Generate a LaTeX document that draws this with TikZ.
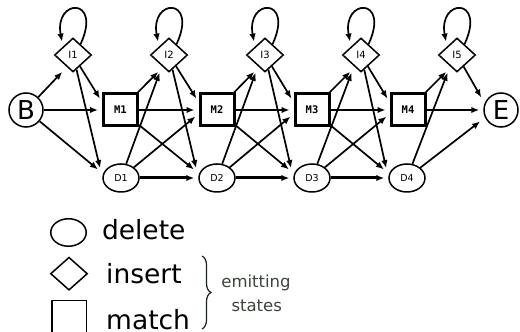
\documentclass[tikz,border=0pt]{standalone}
\usepackage{fontspec}
\setmainfont{DejaVu Sans}
\newfontfamily\monob{DejaVu Sans Mono}
\usetikzlibrary{shapes.geometric,arrows.meta,decorations.pathreplacing}
\definecolor{bracecol}{HTML}{1A241A}
\definecolor{notecol}{HTML}{3C443C}
\begin{document}
\begin{tikzpicture}[x=1pt,y=1pt,
  ins/.style={diamond,draw,line width=1.5pt,minimum width=37pt,minimum height=34pt,inner sep=0pt,font=\fontsize{10}{10}\selectfont},
  mat/.style={rectangle,draw,line width=3pt,minimum width=34pt,minimum height=32pt,inner sep=0pt,font=\monob\bfseries\fontsize{10.5}{10}\selectfont},
  del/.style={ellipse,draw,line width=1.5pt,minimum width=36pt,minimum height=28pt,inner sep=0pt,font=\fontsize{9.5}{10}\selectfont},
  term/.style={circle,draw,line width=1.5pt,minimum size=34pt,inner sep=0pt,font=\fontsize{26}{26}\selectfont},
  arr/.style={line width=1.7pt,-{Latex[length=8pt,width=6.5pt]},shorten >=4pt},
  tarr/.style={arr,line width=3pt},
  legtext/.style={anchor=base west,inner sep=0pt,font=\fontsize{26.5}{28}\selectfont},
  note/.style={anchor=base,inner sep=0pt,text=notecol,font=\fontsize{16.5}{18}\selectfont}
]
\useasboundingbox (0,0) rectangle (520,332);

% terminal states
\node[term] (B) at (26,222) {B};
\node[term] (E) at (501,222) {E};
% insert states
\node[ins] (I1) at (73,277) {I1};
\node[ins] (I2) at (169,277) {I2};
\node[ins] (I3) at (265,277) {I3};
\node[ins] (I4) at (361,277) {I4};
\node[ins] (I5) at (457,277) {I5};
% match states
\node[mat] (M1) at (120.5,222) {M1};
\node[mat] (M2) at (217,222) {M2};
\node[mat] (M3) at (312,222) {M3};
\node[mat] (M4) at (408,222) {M4};
% delete states
\node[del] (D1) at (121,154) {D1};
\node[del] (D2) at (217,154) {D2};
\node[del] (D3) at (312,154) {D3};
\node[del] (D4) at (407,154) {D4};

% self loops
\foreach \i in {1,...,5}
  \draw[arr,shorten >=5pt] (I\i.55) .. controls +(22,48) and +(-9,48) .. (I\i.140);

% from B
\draw[arr] (B) -- ([shift={(-8,-14)}]I1.center);
\draw[arr] (B) -- (M1.west);
\draw[arr] (B) -- ([shift={(-20,6)}]D1.center);

% insert to match / delete of same column
\foreach \i in {1,...,4}{
  \draw[arr] (I\i) -- ([yshift=8]M\i.west);
  \draw[arr] (I\i) -- ([shift={(-20,6)}]D\i.center);
}

% match and delete to next column
\foreach \i/\j in {1/2,2/3,3/4}{
  \draw[arr] (M\i) -- ([shift={(-8,-14)}]I\j.center);
  \draw[arr] (M\i) -- (M\j.west);
  \draw[arr] (M\i) -- ([shift={(-20,6)}]D\j.center);
  \draw[arr] (D\i) -- ([shift={(-8,-14)}]I\j.center);
  \draw[arr] (D\i) -- ([yshift=-4]M\j.west);
  \draw[tarr] (D\i) -- (D\j.west);
}

% last column
\draw[arr] (M4) -- ([shift={(-8,-14)}]I5.center);
\draw[arr] (D4) -- ([shift={(-8,-14)}]I5.center);
\draw[arr] (I5) -- ([yshift=9]E.west);
\draw[arr] (M4) -- (E.west);
\draw[arr] (D4) -- ([yshift=-9]E.west);

% legend
\node[ellipse,draw,line width=1.5pt,minimum width=35.5pt,minimum height=27.5pt,inner sep=0pt] (Ldel) at (68.5,99.5) {};
\node[diamond,draw,line width=1.5pt,minimum width=37pt,minimum height=33pt,inner sep=0pt] (Lins) at (69,58.3) {};
\begin{scope}
  \clip (0,0) rectangle (520,332);
  \node[rectangle,draw,line width=1.5pt,minimum width=34.5pt,minimum height=45pt,inner sep=0pt,anchor=north] (Lmat) at (69,32.2) {};
\end{scope}
\node[legtext] (tdel) at (101.8,92.7) {delete};
\node[legtext] (tins) at (106,48.7) {insert};
\node[legtext] (tmat) at (106,2.5) {match};
\draw[bracecol,line width=1.2pt,decorate,decoration={brace,amplitude=9pt}] (202,76) -- (202,3);
\node[note] (temit) at (256,44) {emitting};
\node[note] (tstat) at (256.7,20.3) {states};
\end{tikzpicture}
\end{document}
